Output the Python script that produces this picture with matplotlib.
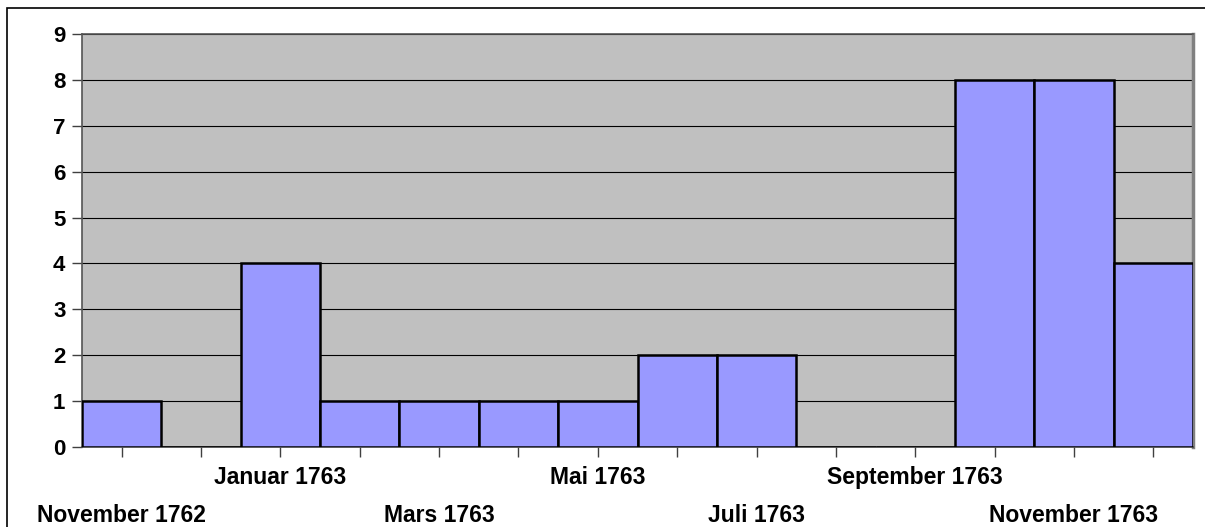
import numpy as np
import matplotlib.pyplot as plt
from matplotlib.patches import Rectangle

months = ['November 1762', 'Dezember 1762', 'Januar 1763', 'Februar 1763', 'Mars 1763',
          'April 1763', 'Mai 1763', 'Juni 1763', 'Juli 1763', 'August 1763',
          'September 1763', 'Oktober 1763', 'November 1763', 'Dezember 1763']
counts = [1, 0, 4, 1, 1, 1, 1, 2, 2, 0, 0, 8, 8, 4]
shown = [0, 2, 4, 6, 8, 10, 12]   # only every other month is labelled

plt.rcParams['font.family'] = ['Liberation Sans', 'DejaVu Sans']

fig = plt.figure(figsize=(12.05, 5.27), dpi=100)
W, H = 1205, 527
ax = fig.add_axes([82 / W, 1 - 447 / H, (1193 - 82) / W, (447 - 34) / H])

# outer chart frame
fig.patches.append(Rectangle((7 / W, -0.01), 1.02, 1 - 8 / H + 0.01, transform=fig.transFigure,
                             fill=False, edgecolor='black', linewidth=1.2))

x = np.arange(len(months))
ax.set_facecolor('#C0C0C0')
ax.bar(x, counts, width=1.0, color='#9999FF', edgecolor='black', linewidth=1.8, zorder=3)

ax.set_xlim(-0.5, len(months) - 0.5)
ax.set_ylim(0, 9)
ax.set_yticks(range(0, 10))
ax.yaxis.grid(True, color='black', linewidth=0.8, zorder=1)
ax.set_axisbelow(True)

ax.set_xticks(x)
ax.set_xticklabels([])
ax.tick_params(axis='x', direction='out', length=7, width=1, color='#404040')
ax.tick_params(axis='y', direction='out', length=7, width=1, color='#404040', pad=5)
for lab in ax.get_yticklabels():
    lab.set_fontsize(16)
    lab.set_fontweight('bold')

for i in shown:
    row = -0.073 if (i // 2) % 2 == 1 else -0.165
    ax.text(x[i], row, months[i], transform=ax.get_xaxis_transform(), ha='center', va='center',
            fontsize=16.5, fontweight='bold')

for s in ['left', 'top']:
    ax.spines[s].set_color('#555555')
    ax.spines[s].set_linewidth(1.2)
ax.spines['right'].set_color('#808080')
ax.spines['right'].set_linewidth(2.5)
ax.spines['bottom'].set_color('#404040')
ax.spines['bottom'].set_linewidth(1.2)

fig.savefig('out.png', dpi=100)
